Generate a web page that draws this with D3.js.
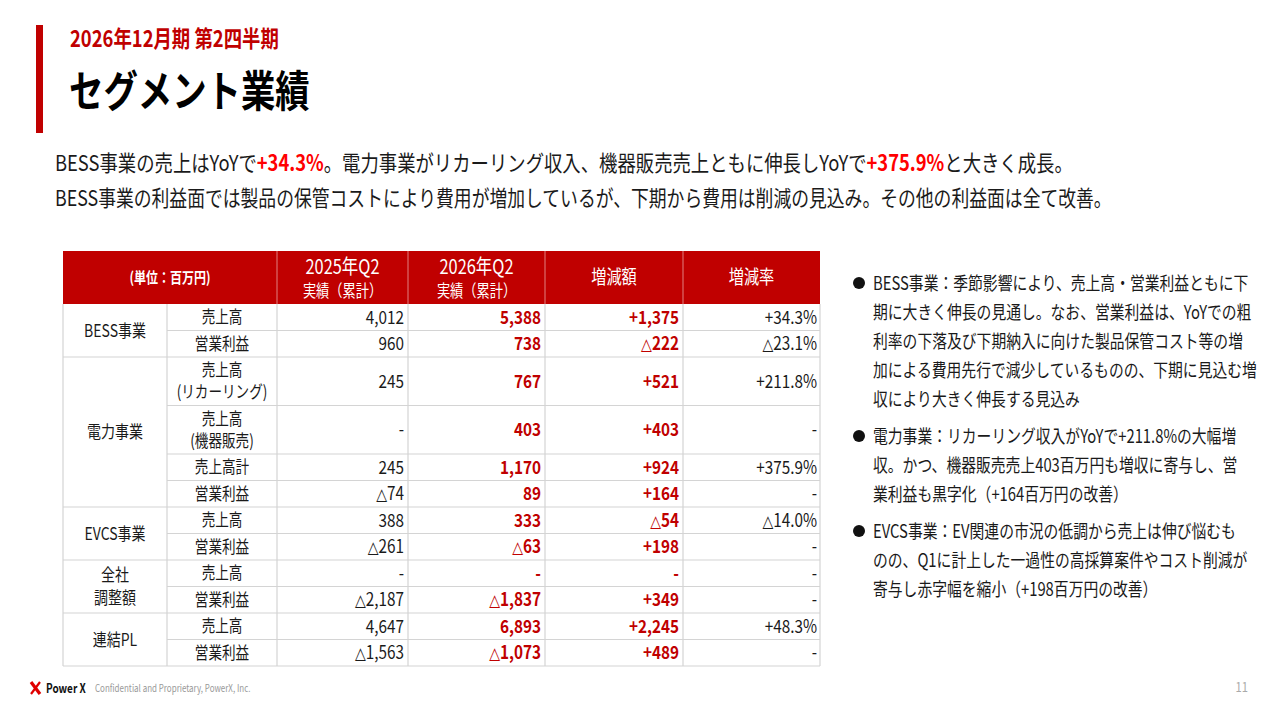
<!DOCTYPE html>
<html>
<head>
<meta charset="utf-8">
<script src="https://cdn.jsdelivr.net/npm/d3@7"></script>
<style>
  body { margin: 0; background: #fff; }
  svg { display: block; font-family: "Noto Sans CJK JP", "Noto Sans", sans-serif; }
</style>
</head>
<body>
<svg id="slide" width="1280" height="720"></svg>
<script>
// ---- data (百万円) ----
var segments = ["BESS事業", "電力事業", "EVCS事業", "全社\n調整額", "連結PL"];
var rowSegment = [0, 0, 1, 1, 1, 1, 2, 2, 3, 3, 4, 4];
var rowItems = ["売上高", "営業利益", "売上高\n(リカーリング)", "売上高\n(機器販売)", "売上高計", "営業利益",
                "売上高", "営業利益", "売上高", "営業利益", "売上高", "営業利益"];
var prevValues = [4012, 960, 245, null, 245, -74, 388, -261, null, -2187, 4647, -1563];
var currValues = [5388, 738, 767, 403, 1170, 89, 333, -63, null, -1837, 6893, -1073];
var diffValues = [1375, -222, 521, 403, 924, 164, -54, 198, null, 349, 2245, 489];
var rateValues = [34.3, -23.1, 211.8, null, 375.9, null, -14.0, null, null, null, 48.3, null];
var headers = ["(単位：百万円)", "2025年Q2\n実績（累計）", "2026年Q2\n実績（累計）", "増減額", "増減率"];

var bullets = [
  ["BESS事業：季節影響により、売上高・営業利益ともに下",
   "期に大きく伸長の見通し。なお、営業利益は、YoYでの粗",
   "利率の下落及び下期納入に向けた製品保管コスト等の増",
   "加による費用先行で減少しているものの、下期に見込む増",
   "収により大きく伸長する見込み"],
  ["電力事業：リカーリング収入がYoYで+211.8%の大幅増",
   "収。かつ、機器販売売上403百万円も増収に寄与し、営",
   "業利益も黒字化（+164百万円の改善）"],
  ["EVCS事業：EV関連の市況の低調から売上は伸び悩むも",
   "のの、Q1に計上した一過性の高採算案件やコスト削減が",
   "寄与し赤字幅を縮小（+198百万円の改善）"]
];

var RED = "#c00000";
var SX = 0.8;   // fake condensed face
var svg = d3.select("#slide");

function label(g, x, y, str, o) {
  o = o || {};
  var lines = str.split("\n");
  var lh = o.lh || o.size * 1.25;
  var t = g.append("text")
    .attr("transform", "translate(" + x + "," + (y - (lines.length - 1) * lh / 2) + ") scale(" + (o.sx || SX) + ",1)")
    .attr("font-size", o.size)
    .attr("font-weight", o.weight || 400)
    .attr("fill", o.color || "#1a1a1a")
    .attr("text-anchor", o.anchor || "start");
  lines.forEach(function(line, i) {
    var ts = t.append("tspan").attr("x", 0).attr("y", i * lh).attr("dy", "0.36em");
    if (line.charAt(0) === "△") {
      // the slide uses a narrow triangle for negatives
      ts.append("tspan").attr("font-family", "DejaVu Sans").attr("font-size", "0.92em").text("△");
      ts.append("tspan").text(line.slice(1));
    } else {
      ts.text(line);
    }
  });
  return t;
}

var fmtInt = d3.format(",");
function fmtAmount(v) { return v == null ? "-" : (v < 0 ? "△" + fmtInt(-v) : fmtInt(v)); }
function fmtDiff(v) { return v == null ? "-" : (v < 0 ? "△" + fmtInt(-v) : "+" + fmtInt(v)); }
function fmtRate(v) { return v == null ? "-" : (v < 0 ? "△" : "+") + d3.format(".1f")(Math.abs(v)) + "%"; }

// ---- title block ----
svg.append("rect").attr("x", 36).attr("y", 25).attr("width", 7).attr("height", 108).attr("fill", RED);
label(svg, 70, 39, "2026年12月期 第2四半期", {size: 23, weight: 700, color: RED});
label(svg, 69, 92, "セグメント業績", {size: 43, weight: 700, color: "#000"});

var l1 = label(svg, 55, 163, "BESS事業の売上はYoYで", {size: 22, sx: 0.835});
l1.append("tspan").attr("fill", "#ff0000").attr("font-weight", 700).text("+34.3%");
l1.append("tspan").text("。電力事業がリカーリング収入、機器販売売上ともに伸長しYoYで");
l1.append("tspan").attr("fill", "#ff0000").attr("font-weight", 700).text("+375.9%");
l1.append("tspan").text("と大きく成長。");
label(svg, 55, 198, "BESS事業の利益面では製品の保管コストにより費用が増加しているが、下期から費用は削減の見込み。その他の利益面は全て改善。", {size: 22, sx: 0.81});

// ---- table ----
var colEdges = [63, 167, 277, 408, 545, 683, 820];
var headTop = 251, bodyTop = 304, bodyBottom = 666;
var units = rowItems.map(function(d) { return d.indexOf("\n") >= 0 ? 1.83 : 1; });
var cum = [0];
units.forEach(function(u, i) { cum.push(cum[i] + u); });
var y = d3.scaleLinear().domain([0, cum[cum.length - 1]]).range([bodyTop, bodyBottom]);

var table = svg.append("g");
var grid = "#d4d4d4";

// header
table.append("rect").attr("x", colEdges[0]).attr("y", headTop)
  .attr("width", colEdges[6] - colEdges[0]).attr("height", bodyTop - headTop).attr("fill", RED);
[2, 3, 4, 5].forEach(function(c) {
  table.append("line").attr("x1", colEdges[c]).attr("x2", colEdges[c])
    .attr("y1", headTop).attr("y2", bodyTop).attr("stroke", "#e08080").attr("stroke-width", 1);
});
var hMid = (headTop + bodyTop) / 2;
label(table, (colEdges[0] + colEdges[2]) / 2, hMid, headers[0], {size: 15, weight: 700, color: "#fff", anchor: "middle"});
[1, 2].forEach(function(k) {
  var cx = (colEdges[k + 1] + colEdges[k + 2]) / 2;
  var parts = headers[k].split("\n");
  label(table, cx, hMid - 10.5, parts[0], {size: 20.5, color: "#fff", anchor: "middle"});
  label(table, cx, hMid + 14, parts[1], {size: 16.5, color: "#fff", anchor: "middle"});
});
label(table, (colEdges[4] + colEdges[5]) / 2, hMid, headers[3], {size: 19, color: "#fff", anchor: "middle"});
label(table, (colEdges[5] + colEdges[6]) / 2, hMid, headers[4], {size: 19, color: "#fff", anchor: "middle"});

// body grid: row lines from item column onward, segment group lines full width
rowItems.forEach(function(d, i) {
  if (i === 0) return;
  var full = rowSegment[i] !== rowSegment[i - 1];
  table.append("line").attr("x1", full ? colEdges[0] : colEdges[1]).attr("x2", colEdges[6])
    .attr("y1", y(cum[i])).attr("y2", y(cum[i])).attr("stroke", grid).attr("stroke-width", 1.2);
});
colEdges.forEach(function(x) {
  table.append("line").attr("x1", x).attr("x2", x)
    .attr("y1", bodyTop).attr("y2", bodyBottom).attr("stroke", grid).attr("stroke-width", 1.2);
});
table.append("line").attr("x1", colEdges[0]).attr("x2", colEdges[6])
  .attr("y1", bodyBottom).attr("y2", bodyBottom).attr("stroke", grid).attr("stroke-width", 1.2);

// segment labels
segments.forEach(function(s, k) {
  var rows = d3.range(rowSegment.length).filter(function(i) { return rowSegment[i] === k; });
  var top = y(cum[rows[0]]), bot = y(cum[rows[rows.length - 1] + 1]);
  label(table, (colEdges[0] + colEdges[1]) / 2, (top + bot) / 2, s, {size: 17.5, anchor: "middle", lh: 23});
});

// cells
rowItems.forEach(function(d, i) {
  var mid = (y(cum[i]) + y(cum[i + 1])) / 2;
  label(table, (colEdges[1] + colEdges[2]) / 2, mid, d, {size: 17, anchor: "middle", lh: 22});
  label(table, colEdges[3] - 4, mid, fmtAmount(prevValues[i]), {size: 18, sx: 0.85, anchor: "end"});
  label(table, colEdges[4] - 4, mid, fmtAmount(currValues[i]), {size: 18, sx: 0.85, anchor: "end", weight: 700, color: RED});
  label(table, colEdges[5] - 4, mid, fmtDiff(diffValues[i]), {size: 18, sx: 0.85, anchor: "end", weight: 700, color: RED});
  label(table, colEdges[6] - 3, mid, fmtRate(rateValues[i]), {size: 18, sx: 0.85, anchor: "end"});
});

// ---- commentary bullets ----
var by = 283;
bullets.forEach(function(lines) {
  svg.append("circle").attr("cx", 859).attr("cy", by).attr("r", 6).attr("fill", "#111");
  lines.forEach(function(line, j) {
    label(svg, 873, by + j * 29, line, {size: 18.5});
  });
  by += lines.length * 29 + 8;
});

// ---- footer ----
var logo = svg.append("g").attr("stroke", "#e00000").attr("stroke-linecap", "butt");
logo.append("line").attr("x1", 31).attr("y1", 682).attr("x2", 40).attr("y2", 694).attr("stroke-width", 3.2);
logo.append("line").attr("x1", 40).attr("y1", 682).attr("x2", 31).attr("y2", 694).attr("stroke-width", 2.2);
label(svg, 46, 688, "Power X", {size: 12.5, weight: 700, color: "#111"});
label(svg, 95, 688, "Confidential and Proprietary, PowerX, Inc.", {size: 10, color: "#999"});
label(svg, 1248, 687, "11", {size: 14, color: "#aaa", anchor: "end"});
</script>
</body>
</html>
